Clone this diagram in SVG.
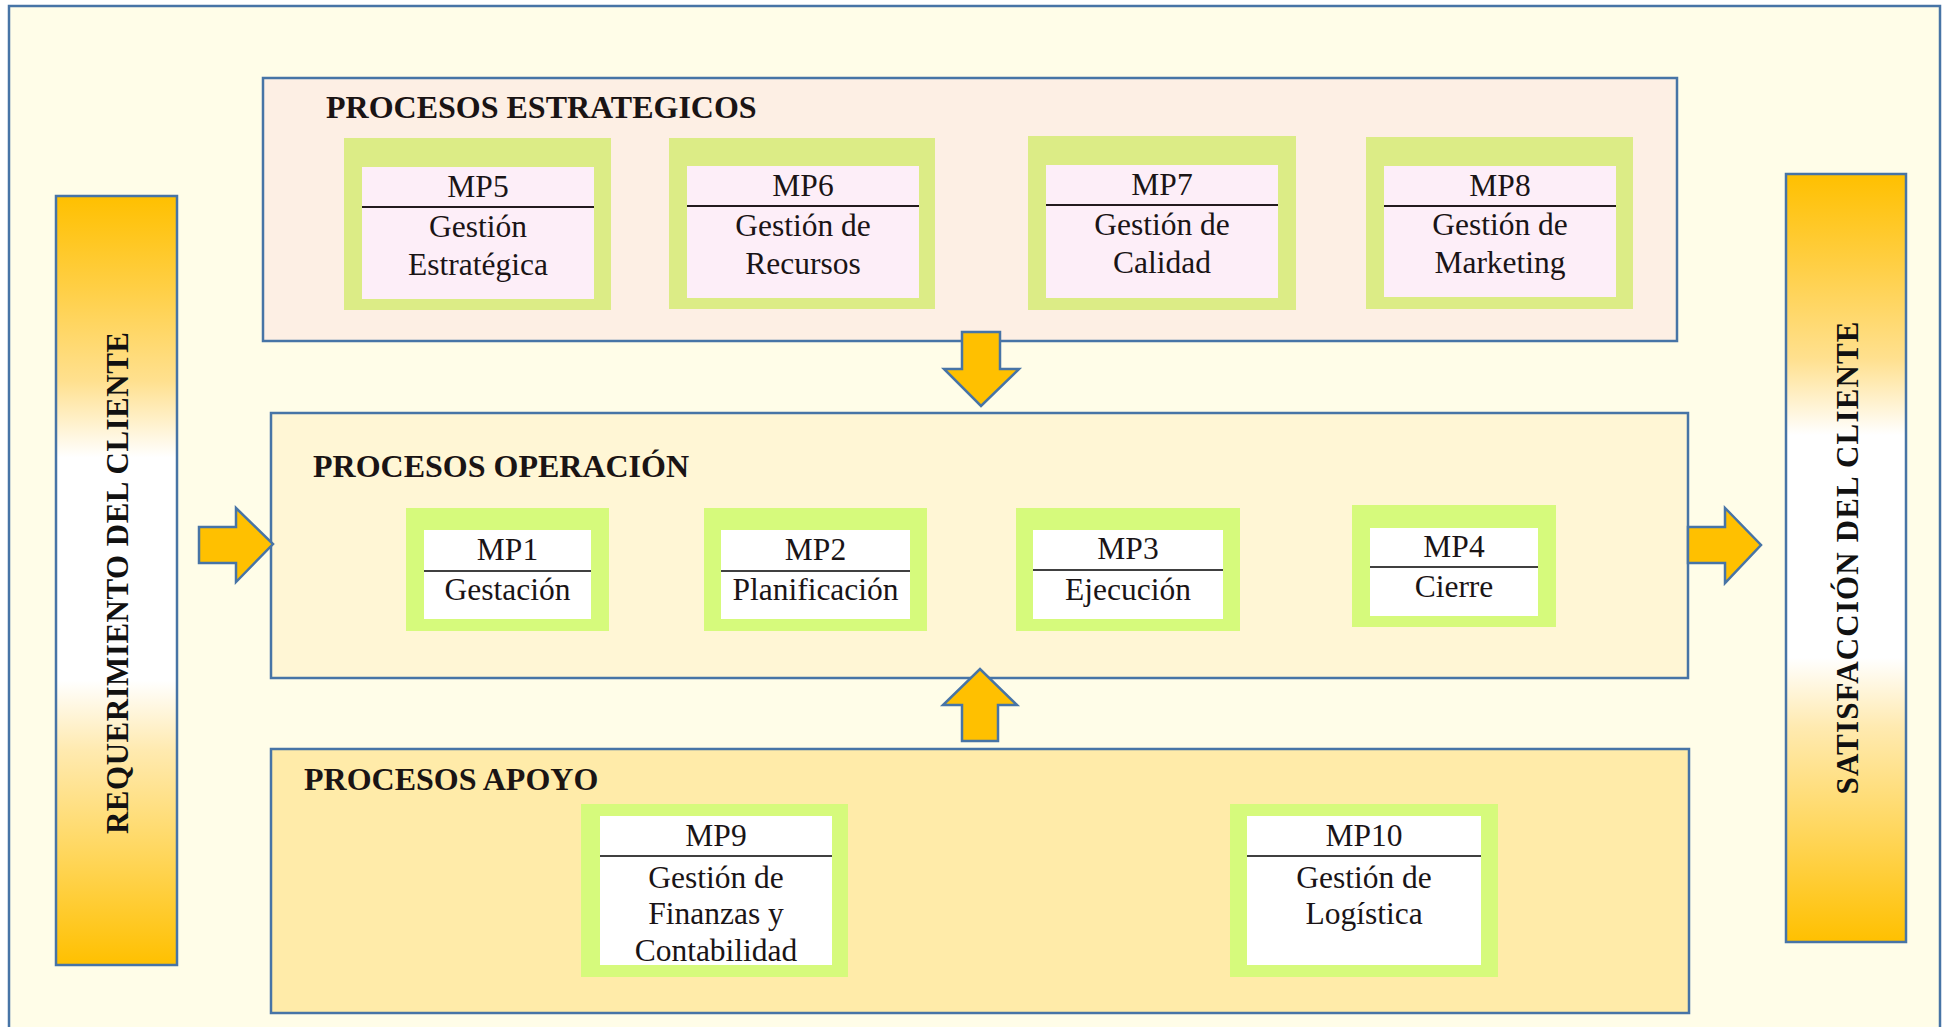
<svg xmlns="http://www.w3.org/2000/svg" width="1947" height="1027" viewBox="0 0 1947 1027">
  <defs>
    <linearGradient id="barGrad" x1="0" y1="0" x2="0" y2="1">
      <stop offset="0" stop-color="#ffc000"/>
      <stop offset="0.12" stop-color="#ffcf45"/>
      <stop offset="0.24" stop-color="#ffe08e"/>
      <stop offset="0.34" stop-color="#ffffff"/>
      <stop offset="0.63" stop-color="#ffffff"/>
      <stop offset="0.72" stop-color="#ffeab0"/>
      <stop offset="0.86" stop-color="#ffd65a"/>
      <stop offset="1" stop-color="#ffc000"/>
    </linearGradient>
    <style>
      .frame { stroke: #4774a6; stroke-width: 2.5; }
      .arrow { fill: #ffc000; stroke: #4774a6; stroke-width: 2.5; stroke-linejoin: miter; }
      .title { font-family: "Liberation Serif", "Times New Roman", serif; font-weight: bold; font-size: 32px; fill: #1a1414; }
      .side { font-family: "Liberation Serif", "Times New Roman", serif; font-weight: bold; font-size: 31px; fill: #111; text-anchor: middle; }
      .lbl { font-family: "Liberation Serif", "Times New Roman", serif; font-size: 31.5px; fill: #1a1416; text-anchor: middle; }
      .gE { fill: #dcec86; }
      .gO { fill: #d6fa7c; }
      .inE { fill: #fdeef8; }
      .inO { fill: #ffffff; }
      .sepE { stroke: #231a1e; stroke-width: 2.2; }
      .sepO { stroke: #404040; stroke-width: 2.2; }
    </style>
  </defs>

  <!-- page -->
  <rect x="0" y="0" width="1947" height="1027" fill="#ffffff"/>
  <rect x="9" y="6" width="1931" height="1040" fill="#fffde8" class="frame"/>

  <!-- side bars -->
  <g id="requerimiento">
    <rect x="56" y="196" width="121" height="769" fill="url(#barGrad)" class="frame"/>
    <text class="side" transform="translate(128,583) rotate(-90)" textLength="502">REQUERIMIENTO DEL CLIENTE</text>
  </g>
  <g id="satisfaccion">
    <rect x="1786" y="174" width="120" height="768" fill="url(#barGrad)" class="frame"/>
    <text class="side" transform="translate(1858,558) rotate(-90)" textLength="473">SATISFACCIÓN  DEL CLIENTE</text>
  </g>

  <!-- process bands -->
  <g id="estrategicos">
    <rect x="263" y="78" width="1414" height="263" fill="#fdefe4" class="frame"/>
    <text class="title" x="326" y="118">PROCESOS ESTRATEGICOS</text>
  </g>
  <g id="operacion">
    <rect x="271" y="413" width="1417" height="265" fill="#fff6d5" class="frame"/>
    <text class="title" x="313" y="477">PROCESOS OPERACIÓN</text>
  </g>
  <g id="apoyo">
    <rect x="271" y="749" width="1418" height="264" fill="#ffeba9" class="frame"/>
    <text class="title" x="304" y="790">PROCESOS APOYO</text>
  </g>

  <!-- strategic processes -->
  <g id="mp5">
    <rect class="gE" x="344" y="138" width="267" height="172"/>
    <rect class="inE" x="362" y="167" width="232" height="132"/>
    <line class="sepE" x1="362" y1="207" x2="594" y2="207"/>
    <text class="lbl" x="478" y="197">MP5</text>
    <text class="lbl" x="478" y="237">Gestión</text>
    <text class="lbl" x="478" y="275">Estratégica</text>
  </g>
  <g id="mp6">
    <rect class="gE" x="669" y="138" width="266" height="171"/>
    <rect class="inE" x="687" y="166" width="232" height="132"/>
    <line class="sepE" x1="687" y1="206" x2="919" y2="206"/>
    <text class="lbl" x="803" y="196">MP6</text>
    <text class="lbl" x="803" y="236">Gestión de</text>
    <text class="lbl" x="803" y="274">Recursos</text>
  </g>
  <g id="mp7">
    <rect class="gE" x="1028" y="136" width="268" height="174"/>
    <rect class="inE" x="1046" y="165" width="232" height="133"/>
    <line class="sepE" x1="1046" y1="205" x2="1278" y2="205"/>
    <text class="lbl" x="1162" y="195">MP7</text>
    <text class="lbl" x="1162" y="235">Gestión de</text>
    <text class="lbl" x="1162" y="273">Calidad</text>
  </g>
  <g id="mp8">
    <rect class="gE" x="1366" y="137" width="267" height="172"/>
    <rect class="inE" x="1384" y="166" width="232" height="131"/>
    <line class="sepE" x1="1384" y1="206" x2="1616" y2="206"/>
    <text class="lbl" x="1500" y="196">MP8</text>
    <text class="lbl" x="1500" y="235">Gestión de</text>
    <text class="lbl" x="1500" y="273">Marketing</text>
  </g>

  <!-- operational processes -->
  <g id="mp1">
    <rect class="gO" x="406" y="508" width="203" height="123"/>
    <rect class="inO" x="424" y="530" width="167" height="89"/>
    <line class="sepO" x1="424" y1="571" x2="591" y2="571"/>
    <text class="lbl" x="507.5" y="560">MP1</text>
    <text class="lbl" x="507.5" y="600">Gestación</text>
  </g>
  <g id="mp2">
    <rect class="gO" x="704" y="508" width="223" height="123"/>
    <rect class="inO" x="721" y="530" width="189" height="89"/>
    <line class="sepO" x1="721" y1="571" x2="910" y2="571"/>
    <text class="lbl" x="815.5" y="560">MP2</text>
    <text class="lbl" x="815.5" y="600">Planificación</text>
  </g>
  <g id="mp3">
    <rect class="gO" x="1016" y="508" width="224" height="123"/>
    <rect class="inO" x="1033" y="530" width="190" height="89"/>
    <line class="sepO" x1="1033" y1="570" x2="1223" y2="570"/>
    <text class="lbl" x="1128" y="559">MP3</text>
    <text class="lbl" x="1128" y="600">Ejecución</text>
  </g>
  <g id="mp4">
    <rect class="gO" x="1352" y="505" width="204" height="122"/>
    <rect class="inO" x="1370" y="528" width="168" height="88"/>
    <line class="sepO" x1="1370" y1="567" x2="1538" y2="567"/>
    <text class="lbl" x="1454" y="557">MP4</text>
    <text class="lbl" x="1454" y="597">Cierre</text>
  </g>

  <!-- support processes -->
  <g id="mp9">
    <rect class="gO" x="581" y="804" width="267" height="173"/>
    <rect class="inO" x="600" y="816" width="232" height="149"/>
    <line class="sepO" x1="600" y1="856" x2="832" y2="856"/>
    <text class="lbl" x="716" y="846">MP9</text>
    <text class="lbl" x="716" y="888">Gestión de</text>
    <text class="lbl" x="716" y="924">Finanzas y</text>
    <text class="lbl" x="716" y="961">Contabilidad</text>
  </g>
  <g id="mp10">
    <rect class="gO" x="1230" y="804" width="268" height="173"/>
    <rect class="inO" x="1247" y="816" width="234" height="149"/>
    <line class="sepO" x1="1247" y1="856" x2="1481" y2="856"/>
    <text class="lbl" x="1364" y="846">MP10</text>
    <text class="lbl" x="1364" y="888">Gestión de</text>
    <text class="lbl" x="1364" y="924">Logística</text>
  </g>

  <!-- block arrows -->
  <g id="connectors">
    <polygon class="arrow" points="199,527 236,527 236,508 273,544 236,582 236,563 199,563"/>
    <polygon class="arrow" points="1688,527 1725,527 1725,508 1761,545 1725,583 1725,563 1688,563"/>
    <polygon class="arrow" points="962,332 1000,332 1000,369 1019,369 981,406 944,369 962,369"/>
    <polygon class="arrow" points="962,741 998,741 998,705 1017,705 980,669 943,705 962,705"/>
  </g>
</svg>
